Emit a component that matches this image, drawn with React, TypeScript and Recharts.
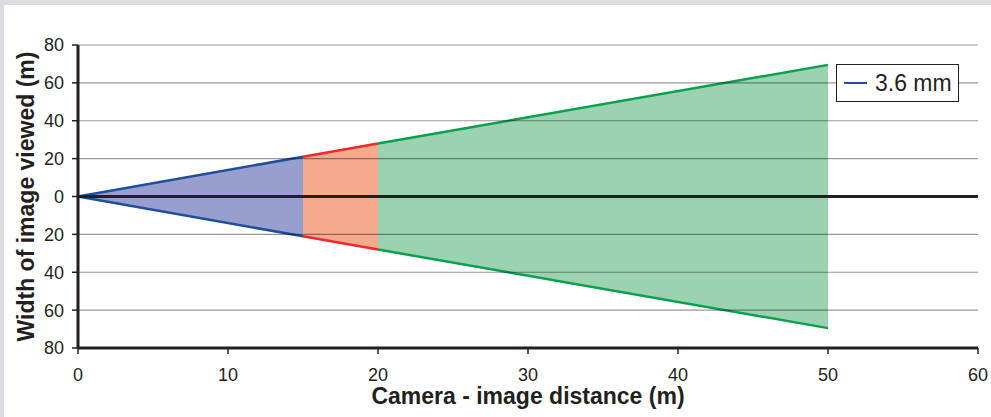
import {
  ComposedChart,
  Area,
  XAxis,
  YAxis,
  ReferenceLine,
  Legend,
} from "recharts";

// distance from camera (m) and half-width of the viewed image (m)
const distances = [0, 15, 20, 50];
const blueHalf = [0, 21, null, null];
const redHalf = [null, 21, 28, null];
const greenHalf = [null, null, 28, 69.5];

const xTicks = [0, 10, 20, 30, 40, 50, 60];
const yTicks = [-80, -60, -40, -20, 0, 20, 40, 60, 80];
const gridLevels = [-60, -40, -20, 20, 40, 60, 80];

const legendLabel = "3.6 mm";

const range = (v: number | null) => (v === null ? null : [-v, v]);

const data = distances.map((d, i) => ({
  x: d,
  blue: range(blueHalf[i]),
  red: range(redHalf[i]),
  green: range(greenHalf[i]),
}));

const FONT = "'Liberation Sans', Arial, sans-serif";

const LegendBox = () => (
  <div
    style={{
      width: 123,
      height: 38,
      border: "1.5px solid #231f20",
      background: "#fff",
      display: "flex",
      alignItems: "center",
      fontFamily: FONT,
      fontSize: 23,
      color: "#231f20",
      boxSizing: "border-box",
    }}
  >
    <span
      style={{
        display: "inline-block",
        width: 23,
        height: 2.5,
        background: "#1f4e9f",
        marginLeft: 7,
        marginRight: 8,
      }}
    />
    {legendLabel}
  </div>
);

export default function App() {
  return (
    <div
      style={{
        position: "fixed",
        left: 0,
        top: 0,
        width: 991,
        height: 417,
        background: "#dcdde0",
      }}
    >
      <div
        style={{
          position: "absolute",
          left: 4,
          top: 5,
          width: 987,
          height: 412,
          background: "#fff",
        }}
      />
      <div style={{ position: "absolute", left: 0, top: 0 }}>
        <ComposedChart
          width={991}
          height={417}
          data={data}
          margin={{ top: 45, right: 13, left: 8, bottom: 9 }}
        >
          <XAxis
            dataKey="x"
            type="number"
            domain={[0, 60]}
            ticks={xTicks}
            axisLine={{ stroke: "#231f20", strokeWidth: 3 }}
            tickLine={{ stroke: "#231f20", strokeWidth: 1.5 }}
            tickSize={6}
            tickMargin={14}
            height={60}
            tick={{ fill: "#231f20", fontSize: 18, fontFamily: FONT }}
            label={{
              content: ({ viewBox }: any) => (
                <text
                  x={viewBox.x + viewBox.width / 2}
                  y={viewBox.y + 56}
                  textAnchor="middle"
                  fontFamily={FONT}
                  fontWeight="bold"
                  fontSize={23}
                  fill="#231f20"
                >
                  Camera - image distance (m)
                </text>
              ),
            }}
          />
          <YAxis
            type="number"
            domain={[-80, 80]}
            ticks={yTicks}
            tickFormatter={(v: number) => String(Math.abs(v))}
            axisLine={{ stroke: "#231f20", strokeWidth: 3 }}
            tickLine={{ stroke: "#231f20", strokeWidth: 1.5 }}
            tickSize={6}
            tickMargin={8}
            width={70}
            tick={{ fill: "#231f20", fontSize: 18, fontFamily: FONT }}
            label={{
              content: ({ viewBox }: any) => {
                const cx = 26;
                const cy = viewBox.y + viewBox.height / 2;
                return (
                  <text
                    x={cx}
                    y={cy}
                    transform={`rotate(-90, ${cx}, ${cy})`}
                    textAnchor="middle"
                    dominantBaseline="central"
                    fontFamily={FONT}
                    fontWeight="bold"
                    fontSize={23}
                    fill="#231f20"
                  >
                    Width of image viewed (m)
                  </text>
                );
              },
            }}
          />
          <Area
            dataKey="blue"
            type="linear"
            stroke="#1f4e9f"
            strokeWidth={2.5}
            fill="#979fcf"
            fillOpacity={1}
            isAnimationActive={false}
            legendType="none"
          />
          <Area
            dataKey="red"
            type="linear"
            stroke="#ee2a2a"
            strokeWidth={2.5}
            fill="#f7a98d"
            fillOpacity={1}
            isAnimationActive={false}
            legendType="none"
          />
          <Area
            dataKey="green"
            type="linear"
            stroke="#0aa04e"
            strokeWidth={2.5}
            fill="#9bd3b1"
            fillOpacity={1}
            isAnimationActive={false}
            legendType="none"
          />
          {gridLevels.map((g) => (
            <ReferenceLine
              key={g}
              y={g}
              stroke="#000"
              strokeOpacity={0.4}
              strokeWidth={1.2}
            />
          ))}
          <ReferenceLine y={0} stroke="#231f20" strokeWidth={3} />
          <Legend
            layout="vertical"
            align="center"
            verticalAlign="middle"
            content={() => <LegendBox />}
            wrapperStyle={{ left: 836, top: 64, width: 123, height: 38 }}
          />
        </ComposedChart>
      </div>
    </div>
  );
}
